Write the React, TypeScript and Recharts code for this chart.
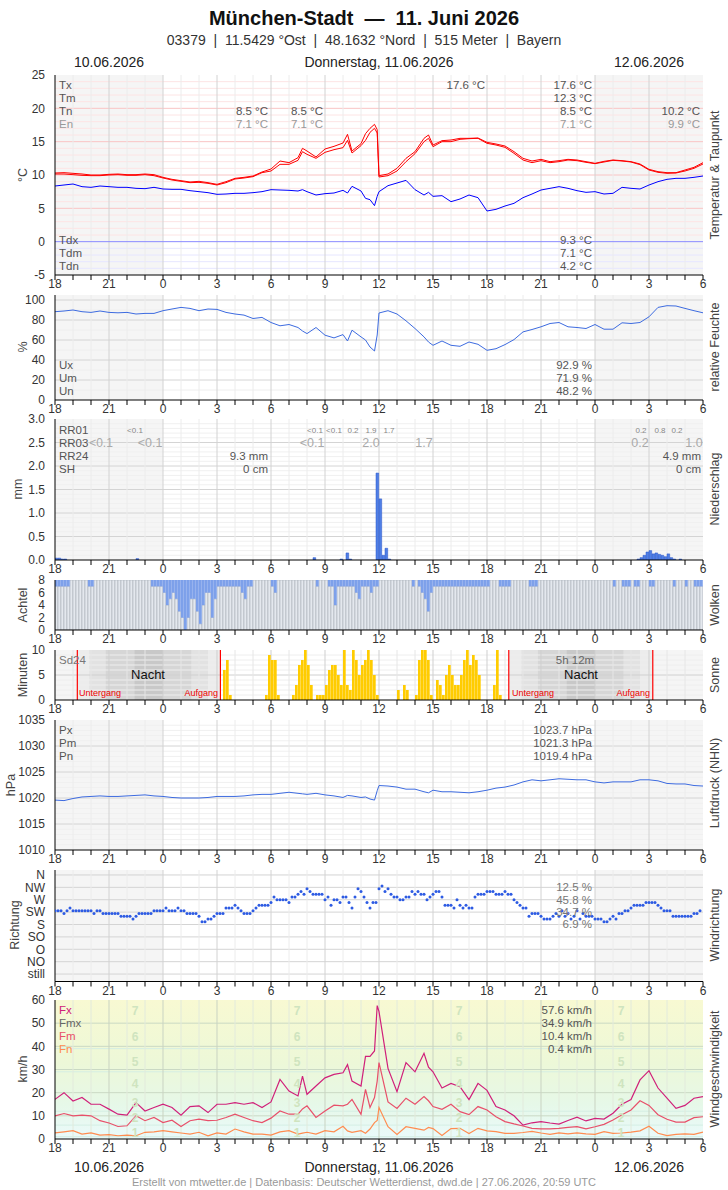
import React from "react";
import {
  ComposedChart, Line, Bar, XAxis, YAxis,
  ReferenceLine, ReferenceArea, ReferenceDot,
} from "recharts";

const FONT = "'Liberation Sans', Arial, Helvetica, sans-serif";
const W = 728;
const PAD_T = 10;
const PAD_B = 20;

// hours since 10.06.2026 00:00 (18 = 10.06. 18 Uhr, 54 = 12.06. 6 Uhr)
const lineTimes = [
  18, 18.5, 19, 19.5, 20, 20.5, 21, 21.5, 22, 22.5, 23, 23.5,
  24, 24.5, 25, 25.5, 26, 26.5, 27, 27.5, 28, 28.5, 29, 29.5,
  30, 30.5, 31, 31.5, 31.75, 32, 32.5, 33, 33.5, 34, 34.25, 34.5, 35, 35.25, 35.5, 35.75, 35.9,
  36, 36.5, 37, 37.5, 38, 38.5, 38.75, 39, 39.5, 40, 40.5, 41, 41.5,
  42, 42.5, 43, 43.5, 44, 44.5, 45, 45.5, 46, 46.5, 47, 47.5,
  48, 48.5, 49, 49.5, 50, 50.5, 51, 51.5, 52, 52.5, 53, 53.5, 54,
];

const tempHi = [
  10.3, 10.35, 10.25, 10.15, 10.0, 10.0, 10.1, 10.15, 10.05, 10.05, 10.15, 10.05,
  9.65, 9.35, 9.15, 8.95, 9.05, 8.85, 8.6, 9.0, 9.5, 9.65, 9.85, 10.45,
  10.9, 12.1, 11.85, 12.6, 14.0, 13.6, 12.7, 13.9, 14.3, 14.8, 16.1, 13.6, 14.7, 16.2, 17.0, 17.6, 16.8,
  9.9, 10.15, 11.0, 12.5, 13.5, 15.5, 16.0, 14.5, 15.15, 15.25, 15.5, 15.5, 15.55,
  14.9, 14.65, 14.35, 13.5, 12.5, 12.1, 12.35, 12.0, 12.15, 12.35, 12.25, 12.0,
  11.75, 12.05, 12.25, 12.15, 12.0, 11.65, 10.85, 10.5, 10.35, 10.35, 10.75, 11.15, 11.85,
];
const tempLo = [
  10.15, 10.15, 10.05, 9.95, 9.9, 9.9, 10.0, 10.05, 9.95, 9.95, 10.05, 9.9,
  9.55, 9.25, 9.05, 8.85, 8.9, 8.75, 8.5, 8.85, 9.4, 9.55, 9.75, 10.35,
  10.6, 11.6, 11.6, 12.2, 13.5, 13.1, 12.5, 13.4, 13.8, 14.1, 15.2, 13.3, 14.4, 15.2, 16.4, 17.0, 16.3,
  9.7, 9.9, 10.6, 12.0, 13.2, 15.0, 15.5, 14.25, 15.0, 15.0, 15.35, 15.45, 15.5,
  14.75, 14.5, 14.15, 13.25, 12.25, 11.85, 12.15, 11.85, 12.0, 12.25, 12.15, 11.9,
  11.7, 11.95, 12.2, 12.1, 11.95, 11.55, 10.75, 10.4, 10.25, 10.3, 10.6, 11.0, 11.65,
];
const dewPoint = [
  8.35, 8.5, 8.65, 8.25, 8.15, 8.35, 8.25, 8.15, 8.15, 8.0, 7.95, 8.15,
  7.9, 7.85, 7.85, 7.65, 7.5, 7.35, 7.1, 7.15, 7.25, 7.25, 7.35, 7.5,
  7.8, 7.75, 7.7, 7.6, 7.8, 7.5, 7.0, 7.2, 7.3, 7.7, 7.3, 8.3, 7.6, 6.5, 6.3, 5.4, 6.8,
  7.5, 8.4, 8.8, 9.2, 7.8, 7.0, 7.4, 6.8, 6.9, 6.0, 6.4, 7.0, 6.6,
  4.6, 4.85, 5.35, 5.75, 6.6, 7.15, 7.75, 8.0, 8.25, 8.0, 7.65, 7.4,
  7.5, 7.15, 7.25, 8.15, 8.0, 7.9, 8.5, 9.0, 9.35, 9.5, 9.5, 9.65, 9.85,
];
const humidity = [
  88.3, 89, 90, 88.3, 87.6, 89, 87.6, 87.2, 87.6, 86, 86.6, 86.6,
  89.3, 91, 92.6, 91.6, 89.3, 91, 90.6, 87.6, 86, 84.9, 81.5, 82.6,
  77.5, 74.2, 75.5, 72.5, 69, 66.4, 72.5, 64.8, 62.1, 65.4, 59, 69.8, 63.1, 60, 53, 49, 65,
  87, 89.3, 86, 79.2, 71.5, 63.1, 58, 54.7, 59, 54.7, 53.7, 58, 55.7,
  49.7, 51.3, 55.4, 60.4, 68.1, 70.5, 73.2, 76.5, 77.5, 73.2, 72.5, 71.5,
  75.5, 70.8, 70.8, 77.2, 76.5, 77.5, 83.2, 92.6, 94.3, 94, 91.6, 89.3, 87.2,
];
const pressure = [
  1019.6, 1019.5, 1019.9, 1020.2, 1020.3, 1020.4, 1020.3, 1020.3, 1020.4, 1020.5, 1020.6, 1020.4,
  1020.3, 1020.1, 1020.0, 1020.0, 1020.0, 1020.1, 1020.3, 1020.3, 1020.3, 1020.4, 1020.6, 1020.7,
  1020.7, 1020.9, 1021.1, 1020.9, 1020.8, 1020.7, 1020.9, 1020.6, 1020.4, 1020.1, 1020.5, 1020.4, 1020.1, 1020.2, 1019.8, 1019.6, 1021.4,
  1022.4, 1022.3, 1022.1, 1021.7, 1021.7, 1021.2, 1021.0, 1021.5, 1021.2, 1021.2, 1021.1, 1021.0, 1021.2,
  1021.5, 1021.9, 1022.1, 1022.5, 1023.1, 1023.5, 1023.3, 1023.5, 1023.7, 1023.6, 1023.5, 1023.5,
  1023.1, 1022.9, 1023.1, 1023.1, 1023.1, 1023.5, 1023.5, 1023.3, 1022.8, 1022.7, 1022.7, 1022.4, 1022.3,
];
const gustMax = [
  17.1, 20, 16.4, 17.9, 15, 15, 12.9, 10.7, 10.3, 15.7, 12.1, 13.6,
  15, 13.6, 10.3, 14, 14.3, 11.4, 15, 15, 15.7, 15, 15.7, 13.6,
  16, 25.7, 20.7, 18.6, 27.1, 19.3, 22.9, 26.4, 27.9, 28.6, 32.1, 25, 22.9, 35.7, 35.7, 38, 57.6,
  55, 30.5, 20.4, 33, 29, 37, 31, 29, 22, 24, 22.6, 17, 24,
  21, 14, 12.5, 10, 6.0, 7.0, 7.5, 6.9, 6.4, 8.0, 9.4, 7.8,
  8.9, 8.6, 11.1, 15, 17, 25.5, 29.5, 22, 17.6, 13.2, 14.5, 17.6, 18.3,
];
const windMean = [
  10, 11, 10, 10.3, 10, 7.9, 6.9, 5.4, 5.7, 10, 7.9, 9.3,
  7.1, 8.1, 5.4, 7.9, 8.6, 7.9, 8.1, 9.3, 10.7, 9.3, 7.9, 7.1,
  9, 12.1, 10.7, 10.7, 13, 14.3, 9.3, 12.1, 14.6, 14.3, 15, 17.1, 10.7, 21.4, 13.6, 17.9, 25,
  33, 16, 13.2, 17.6, 15, 18.3, 16.5, 14, 12.8, 15, 11.8, 10.5, 14,
  12.5, 9.6, 7.5, 6.5, 5.6, 4.6, 4.4, 4.4, 4.6, 5.0, 5.3, 4.4,
  5.3, 6.3, 8.2, 10.5, 12.5, 16.5, 14.5, 10.5, 8.5, 7.3, 7.3, 9.2, 9.6,
];
const windMin = [
  2.6, 3.1, 3.6, 2.1, 2.6, 1.7, 1.9, 1.4, 1.7, 1.4, 2.9, 3.1,
  3.6, 3.1, 2.6, 2.1, 2.9, 1.4, 2.6, 2.1, 4.3, 3.1, 2.1, 2.1,
  1.7, 3.1, 3.6, 2.1, 2.5, 2.9, 2.1, 3.6, 3.1, 5.5, 3.5, 2.9, 3.6, 2.5, 4.3, 7.1, 8,
  13.6, 5.3, 2, 5.3, 4.6, 3.8, 5, 4.5, 1.5, 4.5, 4.6, 2.4, 4.6,
  3.5, 3.2, 2.4, 2.4, 2.8, 3.3, 2.6, 2.0, 2.6, 2.2, 2.6, 2.2,
  2.0, 3.2, 2.4, 2.6, 3.0, 3.5, 5.5, 2.5, 1.5, 2.0, 2.2, 2.0, 3.0,
];

// 10-minute slots, 216 of them, 3 h per row
const slotStart = Array.from({ length: 216 }, (_, i) => 18 + i / 6);

// lower edge of the cloud bar (Achtel)
const cloudBase = [
  7, 7, 7, 7, 7, 8, 8, 8, 8, 8, 8, 7, 7, 8, 8, 8, 8, 8,
  8, 8, 8, 8, 8, 8, 8, 8, 8, 8, 8, 8, 8, 8, 7, 7, 7, 7,
  6, 4, 5, 6, 5, 3, 2, 0, 2, 5, 5, 3, 1, 4, 6, 6, 2, 5,
  7, 7, 7, 7, 7, 7, 7, 7, 6, 5, 7, 7, 8, 8, 8, 8, 8, 8,
  7, 6, 8, 8, 8, 8, 8, 8, 8, 8, 8, 8, 8, 8, 8, 7, 8, 8,
  8, 7, 7, 4, 7, 7, 7, 7, 7, 7, 6, 5, 7, 7, 7, 6, 7, 7,
  8, 8, 8, 8, 8, 8, 8, 8, 8, 8, 8, 7, 8, 7, 6, 5, 3, 6,
  7, 7, 7, 7, 7, 7, 7, 7, 7, 7, 7, 7, 7, 7, 7, 7, 7, 7,
  7, 8, 8, 8, 7, 7, 7, 7, 8, 8, 8, 8, 8, 8, 7, 7, 7, 8,
  8, 8, 8, 8, 8, 8, 8, 8, 8, 8, 8, 8, 8, 8, 8, 8, 8, 8,
  8, 8, 8, 8, 8, 8, 7, 8, 8, 7, 7, 7, 8, 7, 7, 8, 8, 8,
  7, 7, 8, 8, 8, 8, 8, 8, 7, 8, 8, 8, 7, 8, 8, 7, 7, 7,
];

const sunMinutes = [
  0, 0, 0, 0, 0, 0, 0, 0, 0, 0, 0, 0, 0, 0, 0, 0, 0, 0,
  0, 0, 0, 0, 0, 0, 0, 0, 0, 0, 0, 0, 0, 0, 0, 0, 0, 0,
  0, 0, 0, 0, 0, 0, 0, 0, 0, 0, 0, 0, 0, 0, 0, 0, 0, 0,
  0, 0, 6, 8, 1, 0, 0, 0, 0, 0, 0, 0, 0, 0, 0, 0, 1, 9,
  8, 8, 1, 0, 0, 0, 0, 1, 3, 7, 8, 10, 7, 3, 0, 1, 1, 1,
  3, 6, 7, 7, 5, 3, 10, 3, 2, 10, 8, 5, 7, 8, 10, 8, 5, 1,
  0, 0, 0, 0, 0, 0, 2, 0, 3, 2, 0, 0, 1, 8, 10, 10, 8, 1,
  0, 4, 3, 1, 5, 7, 5, 3, 3, 5, 8, 10, 7, 9, 8, 5, 0, 0,
  0, 0, 3, 10, 1, 0, 0, 0, 0, 0, 0, 0, 0, 0, 0, 0, 0, 0,
  0, 0, 0, 0, 0, 0, 0, 0, 0, 0, 0, 0, 0, 0, 0, 0, 0, 0,
  0, 0, 0, 0, 0, 0, 0, 0, 0, 0, 0, 0, 0, 0, 0, 0, 0, 0,
  0, 0, 0, 0, 0, 0, 0, 0, 0, 0, 0, 0, 0, 0, 0, 0, 0, 0,
];

// wind direction in degrees
const windDir = [
  230, 230, 230, 220, 230, 240, 230, 230, 230, 230, 230, 230, 230, 220, 230, 230, 220, 220,
  220, 220, 220, 220, 210, 210, 210, 210, 200, 210, 220, 220, 220, 220, 220, 230, 230, 230,
  230, 240, 230, 230, 230, 240, 230, 230, 220, 220, 220, 220, 210, 190, 190, 200, 200, 210,
  220, 220, 220, 240, 240, 240, 250, 240, 230, 220, 220, 220, 230, 240, 250, 250, 250, 250,
  260, 280, 270, 270, 270, 270, 260, 280, 280, 290, 300, 290, 310, 300, 290, 290, 290, 290,
  270, 280, 250, 270, 270, 260, 280, 280, 260, 240, 280, 310, 300, 280, 260, 240, 260, 260,
  310, 320, 300, 310, 290, 280, 280, 270, 270, 280, 280, 300, 290, 300, 290, 290, 270, 280,
  290, 300, 300, 280, 250, 250, 250, 240, 270, 250, 240, 250, 240, 240, 280, 290, 290, 290,
  300, 300, 300, 290, 290, 290, 300, 290, 290, 270, 260, 250, 240, 240, 210, 220, 220, 220,
  210, 200, 200, 200, 210, 220, 210, 230, 210, 220, 200, 210, 230, 200, 220, 210, 210, 210,
  200, 200, 200, 190, 190, 200, 210, 200, 220, 220, 230, 230, 240, 250, 250, 250, 250, 260,
  260, 260, 260, 250, 240, 230, 230, 230, 210, 210, 210, 210, 210, 210, 210, 220, 220, 230,
];

// precipitation per 10 minutes (start hour, mm)
const rainAt = [18, 18.17, 18.33, 18.5, 22.5, 32.33, 33.83, 34.17, 34.33, 35.83, 36, 36.17, 36.33, 36.5,
  50.33, 50.5, 50.67, 50.83, 51, 51.17, 51.33, 51.5, 51.67, 51.83, 52, 52.17, 52.33, 52.67];
const rainMm = [0.04, 0.04, 0.02, 0.02, 0.03, 0.05, 0.02, 0.15, 0.02, 1.85, 1.3, 0.1, 0.25, 0.02,
  0.02, 0.05, 0.1, 0.17, 0.2, 0.13, 0.15, 0.12, 0.1, 0.07, 0.13, 0.05, 0.02, 0.02];

const sunSet = [19.24, 43.21];
const sunRise = [27.19, 51.21];
const dirNames = ["still", "NO", "O", "SO", "S", "SW", "W", "NW", "N"];
const beaufortNums = [1, 2, 3, 4, 5, 6, 7];
const beaufortMid = [2.5, 9, 15.5, 24, 33.5, 44, 55.5];
const beaufortAt = [22.45, 31.45, 40.45, 49.45];

const hourTicks = Array.from({ length: 37 }, (_, i) => 18 + i);
const steps = (a: number, b: number, s: number) => {
  const r: number[] = [];
  for (let v = a; v <= b + 1e-9; v += s) r.push(Math.round(v * 100) / 100);
  return r;
};

const lineRows = lineTimes.map((t, i) => ({
  t, hi: tempHi[i], lo: tempLo[i], td: dewPoint[i], u: humidity[i],
  p: pressure[i], fx: gustMax[i], fm: windMean[i], fn: windMin[i],
}));
const slotRows = slotStart.map((t, i) => ({
  t: t + 1 / 12, g: cloudBase[i], b: 8 - cloudBase[i], s: sunMinutes[i], rr: 0,
}));
rainAt.forEach((h, j) => {
  const k = Math.round((h - 18) * 6);
  if (slotRows[k]) slotRows[k].rr = rainMm[j];
});
const dirRows = slotStart.map((t, i) => ({ t, d: windDir[i] / 45 }));

const HourTick = (props: any) => {
  const { x, y, payload } = props;
  const v = payload.value;
  if (v % 3 !== 0) return <g />;
  return (
    <text x={x} y={y + 8} textAnchor="middle" fill="#333" fontSize={12} fontFamily={FONT}>
      {v % 24}
    </text>
  );
};

const hLines = (vals: number[], stroke: string, tag: string) =>
  vals.map((v) => <ReferenceLine key={`${tag}${v}`} y={v} stroke={stroke} strokeWidth={1} zIndex={-120} />);

const vGrid = (minor = "#ececec", major = "#d2d2d2") => [
  ...hourTicks.filter((h) => h % 3 !== 0).map((h) => (
    <ReferenceLine key={`vm${h}`} x={h} stroke={minor} zIndex={-110} />
  )),
  ...hourTicks.filter((h) => h % 3 === 0 && h > 18 && h < 54).map((h) => (
    <ReferenceLine key={`vM${h}`} x={h} stroke={major} zIndex={-105} />
  )),
];

const shade = () => [
  <ReferenceArea key="s1" x1={18} x2={24} fill="#f5f5f5" fillOpacity={1} stroke="none" zIndex={-150} />,
  <ReferenceArea key="s2" x1={48} x2={54} fill="#f5f5f5" fillOpacity={1} stroke="none" zIndex={-150} />,
];

type PanelProps = {
  top: number; bottom: number; domain: [number, number]; yTicks: number[];
  yFmt?: (v: number) => string; data?: any[]; children?: React.ReactNode;
};

function Panel({ top, bottom, domain, yTicks, yFmt, data, children }: PanelProps) {
  const h = bottom - top + PAD_T + PAD_B;
  return (
    <div style={{ position: "absolute", left: 0, top: top - PAD_T }}>
      <ComposedChart width={W} height={h} data={data}
        margin={{ top: PAD_T, right: 25, bottom: 0, left: 0 }}>
        <XAxis dataKey="t" type="number" domain={[18, 54]} ticks={hourTicks} interval={0}
          allowDataOverflow height={PAD_B} tick={<HourTick />} tickSize={5} tickMargin={0}
          tickLine={{ stroke: "#000" }} axisLine={{ stroke: "#000" }} />
        <XAxis xAxisId="top" orientation="top" type="number" domain={[18, 54]} ticks={hourTicks}
          interval={0} height={0} tick={false} tickSize={5}
          tickLine={{ stroke: "#000" }} axisLine={{ stroke: "#000" }} />
        <YAxis type="number" domain={domain} ticks={yTicks} interval={0} allowDataOverflow width={55}
          tickFormatter={yFmt} tickLine={false} tickMargin={4} axisLine={{ stroke: "#000" }}
          tick={{ fill: "#333", fontSize: 12, fontFamily: FONT }} />
        <YAxis yAxisId="r" orientation="right" type="number" domain={domain} width={0}
          tick={false} tickLine={false} axisLine={{ stroke: "#000" }} />
        {children}
      </ComposedChart>
    </div>
  );
}

type Txt = [number, number, string, "start" | "middle" | "end", string?, number?];
const G = "#555";
const L = "#999";
const texts: Txt[] = [
  [59, 89, "Tx", "start"], [59, 102, "Tm", "start"], [59, 115, "Tn", "start"], [59, 128, "En", "start", L],
  [268, 115, "8.5 °C", "end"], [268, 128, "7.1 °C", "end", L], [323, 115, "8.5 °C", "end"], [323, 128, "7.1 °C", "end", L],
  [485, 89, "17.6 °C", "end"], [592, 89, "17.6 °C", "end"], [592, 102, "12.3 °C", "end"],
  [592, 115, "8.5 °C", "end"], [592, 128, "7.1 °C", "end", L], [700, 115, "10.2 °C", "end"], [700, 128, "9.9 °C", "end", L],
  [59, 244, "Tdx", "start"], [59, 257, "Tdm", "start"], [59, 270, "Tdn", "start"],
  [592, 244, "9.3 °C", "end"], [592, 257, "7.1 °C", "end"], [592, 270, "4.2 °C", "end"],
  [59, 369, "Ux", "start"], [59, 382, "Um", "start"], [59, 395, "Un", "start"],
  [592, 369, "92.9 %", "end"], [592, 382, "71.9 %", "end"], [592, 395, "48.2 %", "end"],
  [59, 434, "RR01", "start"], [59, 447, "RR03", "start"], [59, 460, "RR24", "start"], [59, 473, "SH", "start"],
  [135, 433, "<0.1", "middle", "#888", 8], [101, 447, "<0.1", "middle", "#aaa", 12], [150, 447, "<0.1", "middle", "#aaa", 12.5],
  [268, 460, "9.3 mm", "end"], [268, 473, "0 cm", "end"],
  [315, 433, "<0.1", "middle", "#888", 8], [334, 433, "<0.1", "middle", "#888", 8], [353, 433, "0.2", "middle", "#888", 8],
  [371, 433, "1.9", "middle", "#888", 8], [389, 433, "1.7", "middle", "#888", 8],
  [312, 447, "<0.1", "middle", "#aaa", 12.5], [371, 447, "2.0", "middle", "#aaa", 12.5], [424, 447, "1.7", "middle", "#aaa", 12.5],
  [641, 433, "0.2", "middle", "#888", 8], [660, 433, "0.8", "middle", "#888", 8], [677, 433, "0.2", "middle", "#888", 8],
  [640, 447, "0.2", "middle", "#aaa", 12.5], [694, 447, "1.0", "middle", "#aaa", 12.5],
  [701, 460, "4.9 mm", "end"], [701, 473, "0 cm", "end"],
  [59, 664, "Sd24", "start", "#777"], [148, 679, "Nacht", "middle", "#111", 13],
  [79, 696, "Untergang", "start", "#e00", 9], [218, 696, "Aufgang", "end", "#e00", 9],
  [575, 664, "5h 12m", "middle", "#666"], [581, 679, "Nacht", "middle", "#111", 13],
  [512, 696, "Untergang", "start", "#e00", 9], [650, 696, "Aufgang", "end", "#e00", 9],
  [59, 734, "Px", "start"], [59, 747, "Pm", "start"], [59, 760, "Pn", "start"],
  [592, 734, "1023.7 hPa", "end"], [592, 747, "1021.3 hPa", "end"], [592, 760, "1019.4 hPa", "end"],
  [592, 891, "12.5 %", "end", "#777"], [592, 904, "45.8 %", "end", "#777"],
  [592, 916, "34.7 %", "end", "#777"], [592, 928, "6.9 %", "end", "#777"],
  [59, 1014, "Fx", "start", "#d0207a"], [59, 1027, "Fmx", "start", "#666"],
  [59, 1040, "Fm", "start", "#e8506a"], [59, 1053, "Fn", "start", "#ff8c50"],
  [592, 1014, "57.6 km/h", "end"], [592, 1027, "34.9 km/h", "end"], [592, 1040, "10.4 km/h", "end"], [592, 1053, "0.4 km/h", "end"],
];

const leftTitles: [number, number, string][] = [
  [27, 175, "°C"], [27, 347, "%"], [22, 489, "mm"], [27, 605, "Achtel"], [27, 675, "Minuten"],
  [15, 785, "hPa"], [19, 925, "Richtung"], [27, 1069, "km/h"],
];
const rightTitles: [number, string][] = [
  [175, "Temperatur & Taupunkt"], [347, "relative Feuchte"], [489, "Niederschlag"], [605, "Wolken"],
  [675, "Sonne"], [783, "Luftdruck (NHN)"], [925, "Windrichtung"], [1069, "Windgeschwindigkeit"],
];

const nightBands: [number, number, string][] = [
  [19.24, 19.9, "#ececec"], [19.9, 20.8, "#e2e2e2"], [20.8, 22.4, "#d6d6d6"], [22.4, 24, "#c8c8c8"],
  [24, 25.6, "#d6d6d6"], [25.6, 26.5, "#e2e2e2"], [26.5, 27.19, "#ececec"],
  [43.21, 43.9, "#ececec"], [43.9, 44.8, "#e2e2e2"], [44.8, 46.4, "#d6d6d6"], [46.4, 48, "#c8c8c8"],
  [48, 49.6, "#d6d6d6"], [49.6, 50.5, "#e2e2e2"], [50.5, 51.21, "#ececec"],
];

export default function App() {
  const tempMinor = steps(1, 24, 1).filter((v) => v % 5 !== 0);
  const lineProps = { type: "linear" as const, dot: false, isAnimationActive: false, activeDot: false };
  return (
    <div style={{ position: "absolute", left: 0, top: 0, width: W, height: 1190, background: "#fff", fontFamily: FONT }}>
      <svg width={0} height={0} style={{ position: "absolute" }}>
        <defs>
          <linearGradient id="windBg" x1="0" y1="0" x2="0" y2="1">
            <stop offset="0%" stopColor="#f8f9d2" />
            <stop offset="45%" stopColor="#edf8d8" />
            <stop offset="75%" stopColor="#e6f8e8" />
            <stop offset="100%" stopColor="#eafafb" />
          </linearGradient>
        </defs>
      </svg>

      {/* Temperatur & Taupunkt */}
      <Panel top={75} bottom={275} domain={[-5, 25]} yTicks={steps(-5, 25, 5)} data={lineRows}>
        {shade()}
        {hLines(tempMinor, "#fde4e4", "tm")}
        {hLines(steps(-4, -1, 1), "#e6e6ff", "tn")}
        {hLines([5, 10, 15, 20], "#f9c4c4", "tM")}
        {vGrid()}
        <ReferenceLine y={0} stroke="#8a8aff" zIndex={-100} />
        <Line dataKey="hi" stroke="#ff0000" strokeWidth={1} {...lineProps} />
        <Line dataKey="lo" stroke="#ff0000" strokeWidth={1} {...lineProps} />
        <Line dataKey="td" stroke="#0000ff" strokeWidth={1} {...lineProps} />
      </Panel>

      {/* relative Feuchte */}
      <Panel top={295} bottom={400} domain={[0, 105]} yTicks={steps(0, 100, 20)} data={lineRows}>
        {shade()}
        {hLines([10, 30, 50, 70, 90], "#eeeeee", "um")}
        {hLines([20, 40, 60, 80, 100], "#d4d4d4", "uM")}
        {vGrid()}
        <Line dataKey="u" stroke="#3d6be0" strokeWidth={1} {...lineProps} />
      </Panel>

      {/* Niederschlag */}
      <Panel top={419} bottom={560} domain={[0, 3]} yTicks={steps(0, 3, 0.5)} yFmt={(v) => v.toFixed(1)} data={slotRows}>
        {shade()}
        {hLines(steps(0.1, 2.9, 0.1).filter((v) => Math.round(v * 10) % 5 !== 0), "#f0f0f0", "rm")}
        {hLines([0.5, 1, 1.5, 2, 2.5], "#d4d4d4", "rM")}
        {vGrid()}
        <Bar dataKey="rr" barSize={3} fill="#4f7fe6" stroke="#2a55c8" strokeWidth={0.5} isAnimationActive={false} />
      </Panel>

      {/* Wolken */}
      <Panel top={580} bottom={630} domain={[0, 8]} yTicks={steps(0, 8, 2)} data={slotRows}>
        <Bar dataKey="g" stackId="c" barSize={3} fill="#e4e8ee" stroke="#a0a8b2" strokeWidth={0.5} isAnimationActive={false} />
        <Bar dataKey="b" stackId="c" barSize={3} fill="#7ea1ea" stroke="#7ea1ea" strokeWidth={0.3} isAnimationActive={false} />
      </Panel>

      {/* Sonne */}
      <Panel top={650} bottom={700} domain={[0, 10]} yTicks={[0, 5, 10]} data={slotRows}>
        {shade()}
        {nightBands.map(([a, b, c], i) => (
          <ReferenceArea key={`n${i}`} x1={a} x2={b} fill={c} fillOpacity={1} stroke="none" zIndex={-140} />
        ))}
        {hLines([1, 2, 3, 4, 6, 7, 8, 9], "#eeeeee", "sm")}
        {hLines([5], "#d0d0d0", "sM")}
        {vGrid("#e6e6e6", "#cfcfcf")}
        {sunSet.concat(sunRise).map((h) => (
          <ReferenceLine key={`sr${h}`} x={h} stroke="#ff0000" strokeWidth={1.2} zIndex={-90} />
        ))}
        <Bar dataKey="s" barSize={3} fill="#ffcc00" isAnimationActive={false} />
      </Panel>

      {/* Luftdruck */}
      <Panel top={720} bottom={850} domain={[1010, 1035]} yTicks={steps(1010, 1035, 5)} data={lineRows}>
        {shade()}
        {hLines(steps(1011, 1034, 1).filter((v) => v % 5 !== 0), "#f0f0f0", "pm")}
        {hLines([1015, 1020, 1025, 1030], "#d4d4d4", "pM")}
        {vGrid()}
        <Line dataKey="p" stroke="#3d6be0" strokeWidth={1} {...lineProps} />
      </Panel>

      {/* Windrichtung */}
      <Panel top={870} bottom={981.5} domain={[-0.6, 8.4]} yTicks={steps(0, 8, 1)}
        yFmt={(v) => dirNames[Math.round(v)] ?? ""} data={dirRows}>
        {shade()}
        {hLines(steps(0, 8, 1), "#d4d4d4", "dM")}
        {vGrid()}
        <Line dataKey="d" stroke="none" type="linear" isAnimationActive={false} activeDot={false}
          dot={{ r: 1.5, fill: "#2d5be3", stroke: "none" }} />
      </Panel>

      {/* Windgeschwindigkeit */}
      <Panel top={1000} bottom={1139} domain={[0, 60]} yTicks={steps(0, 60, 10)} data={lineRows}>
        <ReferenceArea x1={18} x2={54} y1={0} y2={60} fill="url(#windBg)" fillOpacity={1} stroke="none" zIndex={-150} />
        {hLines([1, 6, 12, 29, 39], "#d4eee4", "wb")}
        {hLines([10, 20, 30, 40, 50], "#cad9c4", "wM")}
        {vGrid("#e2eadc", "#c9d3c2")}
        {beaufortAt.flatMap((h) => beaufortNums.map((n, k) => (
          <ReferenceDot key={`bf${h}-${n}`} x={h} y={beaufortMid[k]} r={0} fill="none" stroke="none" zIndex={-90}
            label={{ value: String(n), position: "center", fill: "#cfe4bf", fontSize: 12, fontWeight: "bold", fontFamily: FONT }} />
        )))}
        <Line dataKey="fn" stroke="#ff8c50" strokeWidth={1.2} {...lineProps} />
        <Line dataKey="fm" stroke="#e8506a" strokeWidth={1.2} {...lineProps} />
        <Line dataKey="fx" stroke="#d0207a" strokeWidth={1.2} {...lineProps} />
      </Panel>

      <svg width={W} height={1190} style={{ position: "absolute", left: 0, top: 0, pointerEvents: "none" }}
        fontFamily={FONT}>
        <text x={364} y={25} textAnchor="middle" fontSize={20} fontWeight="bold" fill="#111" style={{ whiteSpace: "pre" }}>
          {"München-Stadt  —  11. Juni 2026"}
        </text>
        <text x={364} y={45} textAnchor="middle" fontSize={14} fill="#333" style={{ whiteSpace: "pre" }}>
          {"03379  |  11.5429 °Ost  |  48.1632 °Nord  |  515 Meter  |  Bayern"}
        </text>
        {[67, 1172].map((y) => (
          <g key={y} fontSize={14} fill="#222">
            <text x={109} y={y} textAnchor="middle">10.06.2026</text>
            <text x={379} y={y} textAnchor="middle">Donnerstag, 11.06.2026</text>
            <text x={649} y={y} textAnchor="middle">12.06.2026</text>
          </g>
        ))}
        <text x={364} y={1186} textAnchor="middle" fontSize={11} fill="#999">
          Erstellt von mtwetter.de | Datenbasis: Deutscher Wetterdienst, dwd.de | 27.06.2026, 20:59 UTC
        </text>
        {texts.map(([x, y, s, a, c, f], i) => (
          <text key={i} x={x} y={y} textAnchor={a} fill={c ?? G} fontSize={f ?? 11.5}>{s}</text>
        ))}
        {leftTitles.map(([x, y, s]) => (
          <text key={s} x={x} y={y} textAnchor="middle" fontSize={12.5} fill="#444" transform={`rotate(-90 ${x} ${y})`}>{s}</text>
        ))}
        {rightTitles.map(([y, s]) => (
          <text key={s} x={719} y={y} textAnchor="middle" fontSize={12.5} fill="#444" transform={`rotate(-90 719 ${y})`}>{s}</text>
        ))}
      </svg>
    </div>
  );
}
